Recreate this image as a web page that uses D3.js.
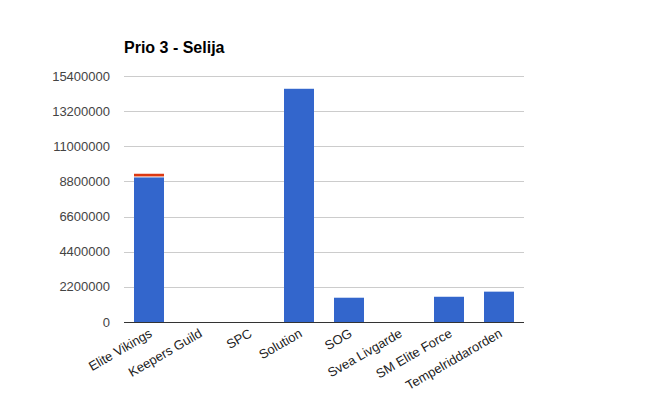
<!DOCTYPE html>
<html>
<head>
<meta charset="utf-8">
<script src="https://cdn.jsdelivr.net/npm/d3@7"></script>
<style>
  body { margin: 0; background: #fff; }
  text { font-family: Arial, "Liberation Sans", sans-serif; }
</style>
</head>
<body>
<div id="chart"></div>
<script>
const categories = ["Elite Vikings", "Keepers Guild", "SPC", "Solution", "SOG", "Svea Livgarde", "SM Elite Force", "Tempelriddarorden"];
const seriesA = [9050000, 0, 0, 14600000, 1520000, 0, 1580000, 1900000];
const seriesB = [230000, 0, 0, 0, 0, 0, 0, 0];
const yTicks = [0, 2200000, 4400000, 6600000, 8800000, 11000000, 13200000, 15400000];

const width = 648, height = 399;
const margin = { top: 76, right: 124, bottom: 77, left: 124 };
const innerW = width - margin.left - margin.right;
const innerH = height - margin.top - margin.bottom;

const svg = d3.select("#chart").append("svg")
  .attr("width", width)
  .attr("height", height);

svg.append("text")
  .attr("x", margin.left)
  .attr("y", 53)
  .style("font-size", "16px")
  .style("font-weight", "bold")
  .style("fill", "#000")
  .text("Prio 3 - Selija");

const g = svg.append("g").attr("transform", `translate(${margin.left},${margin.top})`);

const x = d3.scaleBand().domain(categories).range([0, innerW]).paddingInner(0.4).paddingOuter(0.2);
const y = d3.scaleLinear().domain([0, 15400000]).range([innerH, 0]);

// gridlines
g.selectAll(".grid")
  .data(yTicks.slice(1))
  .join("line")
  .attr("class", "grid")
  .attr("x1", 0).attr("x2", innerW)
  .attr("y1", d => Math.round(y(d)) + 0.5)
  .attr("y2", d => Math.round(y(d)) + 0.5)
  .attr("stroke", "#ccc");

g.selectAll(".ylab")
  .data(yTicks)
  .join("text")
  .attr("class", "ylab")
  .attr("x", -14)
  .attr("y", d => y(d))
  .attr("dy", "0.35em")
  .attr("text-anchor", "end")
  .style("font-size", "13px")
  .style("fill", "#444")
  .text(d => d);

const stackData = categories.map((c, i) => ({ cat: c, a: seriesA[i], b: seriesB[i] }));
const stack = d3.stack().keys(["a", "b"])(stackData);
const colors = { a: "#3366cc", b: "#dc3912" };

stack.forEach(layer => {
  g.selectAll(".bar-" + layer.key)
    .data(layer.filter(d => d[1] - d[0] > 0))
    .join("rect")
    .attr("class", "bar-" + layer.key)
    .attr("x", d => x(d.data.cat))
    .attr("width", x.bandwidth())
    .attr("y", d => y(d[1]))
    .attr("height", d => y(d[0]) - y(d[1]) - (layer.key === "b" ? 1 : 0))
    .attr("fill", colors[layer.key]);
});

// baseline
g.append("line")
  .attr("x1", 0).attr("x2", innerW)
  .attr("y1", innerH + 0.5).attr("y2", innerH + 0.5)
  .attr("stroke", "#333");

g.selectAll(".xlab")
  .data(categories)
  .join("text")
  .attr("class", "xlab")
  .attr("transform", d => `translate(${x(d) + x.bandwidth() / 2 + 4},${innerH + 14}) rotate(-30)`)
  .attr("text-anchor", "end")
  .style("font-size", "13px")
  .style("fill", "#222")
  .text(d => d);
</script>
</body>
</html>
